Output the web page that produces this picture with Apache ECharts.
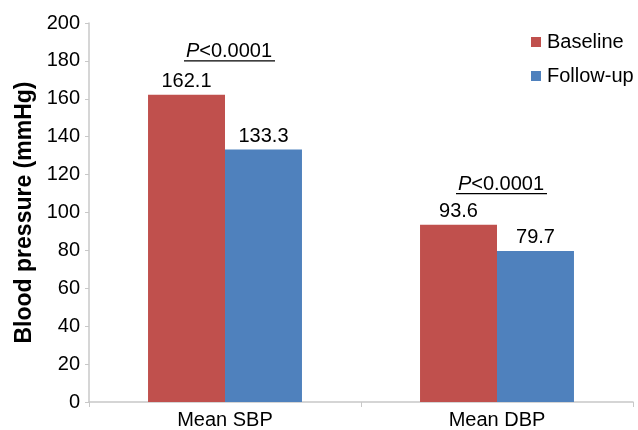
<!DOCTYPE html>
<html>
<head>
<meta charset="utf-8">
<script src="https://cdn.jsdelivr.net/npm/echarts@6/dist/echarts.min.js"></script>
<style>
html,body{margin:0;padding:0;background:#fff;}
#c{width:638px;height:430px;}
</style>
</head>
<body>
<div id="c"></div>
<script>
var categories = ['Mean SBP', 'Mean DBP'];
var baseline = [162.1, 93.6];
var followUp = [133.3, 79.7];
var yTicks = [0, 20, 40, 60, 80, 100, 120, 140, 160, 180, 200];
var pText = ['<0.0001', '<0.0001'];
var pLevel = [185, 115];

var FONT = 'Liberation Sans, Arial, sans-serif';
var chart = echarts.init(document.getElementById('c'));
var option = {
  animation: false,
  backgroundColor: '#fff',
  textStyle: { fontFamily: FONT },
  grid: { left: 89, right: 5, top: 23, bottom: 26, containLabel: false },
  legend: {
    orient: 'vertical',
    left: 526, top: 27,
    itemWidth: 10, itemHeight: 10, itemGap: 14,
    icon: 'rect',
    textStyle: { fontSize: 20, color: '#000', fontFamily: FONT, padding: [0,0,0,1] },
    data: ['Baseline', 'Follow-up']
  },
  xAxis: {
    type: 'category',
    data: categories,
    axisLine: { lineStyle: { color: '#c8c8c8', width: 1.5 } },
    axisTick: { show: true, length: 5, alignWithLabel: false, lineStyle: { color: '#c8c8c8' } },
    axisLabel: { fontSize: 20, color: '#000', margin: 8, fontFamily: FONT }
  },
  yAxis: {
    type: 'value',
    min: yTicks[0], max: yTicks[yTicks.length - 1], interval: 20,
    name: 'Blood pressure (mmHg)',
    nameLocation: 'middle',
    nameGap: 49,
    nameTextStyle: { fontSize: 23, fontWeight: 'bold', color: '#000', fontFamily: FONT },
    axisLine: { show: true, lineStyle: { color: '#c8c8c8', width: 1.5 } },
    axisTick: { show: true, length: 4, lineStyle: { color: '#c8c8c8' } },
    splitLine: { show: false },
    axisLabel: { fontSize: 20, color: '#000', margin: 9, fontFamily: FONT }
  },
  series: [
    {
      name: 'Baseline', type: 'bar', data: baseline,
      barGap: '0%', barCategoryGap: '43.4%',
      itemStyle: { color: '#C0504D' },
      label: { show: true, position: 'top', distance: 3, fontSize: 20, color: '#000', fontFamily: FONT,
        formatter: function (p) { return p.value.toFixed(1); } }
    },
    {
      name: 'Follow-up', type: 'bar', data: followUp,
      barGap: '0%', barCategoryGap: '43.4%',
      itemStyle: { color: '#4F81BD' },
      label: { show: true, position: 'top', distance: 3, fontSize: 20, color: '#000', fontFamily: FONT,
        formatter: function (p) { return p.value.toFixed(1); } }
    }
  ]
};
chart.setOption(option);

var g = [];
for (var i = 0; i < categories.length; i++) {
  var pt = chart.convertToPixel({ gridIndex: 0 }, [categories[i], pLevel[i]]);
  var cx = pt[0] + 4, cy = pt[1];
  g.push({
    type: 'text', x: cx, y: cy,
    style: {
      text: '{i|P}{n|' + pText[i] + '}',
      align: 'center', verticalAlign: 'middle',
      rich: {
        i: { fontSize: 20, fontStyle: 'italic', fontFamily: FONT, fill: '#000' },
        n: { fontSize: 20, fontFamily: FONT, fill: '#000' }
      }
    }
  });
  g.push({
    type: 'line',
    shape: { x1: cx - 45, y1: cy + 9.5, x2: cx + 46, y2: cy + 9.5 },
    style: { stroke: '#000', lineWidth: 1.2 }
  });
}
chart.setOption({ graphic: g });
</script>
</body>
</html>
